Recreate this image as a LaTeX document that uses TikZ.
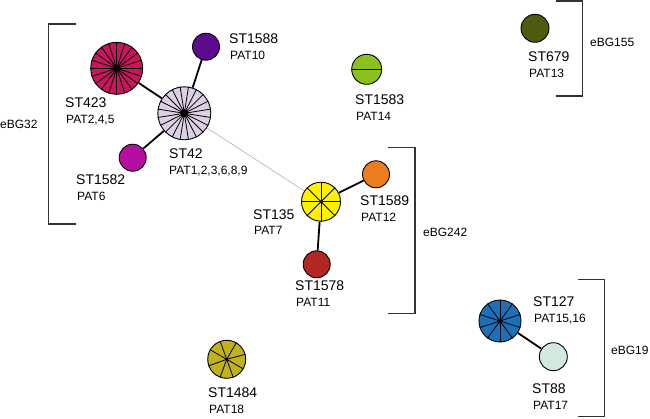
\documentclass[tikz,border=0pt]{standalone}
\usepackage{fontspec}
\setmainfont{Liberation Sans}

\definecolor{c423}{HTML}{C8165C}
\definecolor{c42}{HTML}{DDD0E4}
\definecolor{c1588}{HTML}{5C0A8E}
\definecolor{c1582}{HTML}{B40FA0}
\definecolor{c135}{HTML}{FFF200}
\definecolor{c1589}{HTML}{EC7D1E}
\definecolor{c1578}{HTML}{B22626}
\definecolor{c1583}{HTML}{8BC11E}
\definecolor{c679}{HTML}{4E5A10}
\definecolor{c127}{HTML}{1B70B8}
\definecolor{c88}{HTML}{D2E9DD}
\definecolor{c1484}{HTML}{BFB21C}

\tikzstyle{strain}=[shape=circle,draw=black,line width=0.9pt,inner sep=0pt]
\tikzstyle{link}=[line width=1.8pt]
\tikzstyle{weak}=[line width=0.5pt,draw=gray!70]
\tikzstyle{spoke}=[line width=0.8pt]
\tikzstyle{st}=[anchor=base west,inner sep=0pt,font=\fontsize{14}{16}\selectfont]
\tikzstyle{pat}=[anchor=base west,inner sep=0pt,font=\fontsize{12}{14}\selectfont]
\tikzstyle{group}=[line width=1.1pt,draw=black!80]

\begin{document}
\begin{tikzpicture}[x=1pt,y=-1pt]
        \useasboundingbox (0,0) rectangle (650,419);

        % strains
        \node[strain,fill=c42,minimum size=53pt] (s42) at (184.3,113.3) {};
        \node[strain,fill=c423,minimum size=52pt] (s423) at (116.7,68.3) {}
            edge [link] (s42);
        \node[strain,fill=c1588,minimum size=27pt] (s1588) at (206,46.7) {}
            edge [link] (s42);
        \node[strain,fill=c1582,minimum size=27pt] (s1582) at (132.7,157.7) {}
            edge [link] (s42);
        \node[strain,fill=c135,minimum size=39pt] (s135) at (321,201.7) {}
            edge [weak] (s42);
        \node[strain,fill=c1589,minimum size=27pt] (s1589) at (376,174.3) {}
            edge [link] (s135);
        \node[strain,fill=c1578,minimum size=27pt] (s1578) at (316.7,264.3) {}
            edge [link] (s135);
        \node[strain,fill=c1583,minimum size=30pt] (s1583) at (366.7,69.3) {};
        \node[strain,fill=c679,minimum size=28pt] (s679) at (535,28.3) {};
        \node[strain,fill=c127,minimum size=42pt] (s127) at (500,321) {};
        \node[strain,fill=c88,minimum size=28pt] (s88) at (553.3,356.7) {}
            edge [link] (s127);
        \node[strain,fill=c1484,minimum size=38pt] (s1484) at (226.7,359.3) {};

        % spokes
        \foreach \a in {0,18,...,342}
            \draw[spoke] (s423.center) -- (s423.\a);
        \foreach \a in {9,27,...,351}
            \draw[spoke] (s42.center) -- (s42.\a);
        \foreach \a in {0,45,...,315}
            \draw[spoke] (s135.center) -- (s135.\a);
        \foreach \a in {18,54,...,342}
            \draw[spoke] (s127.center) -- (s127.\a);
        \foreach \a in {15,60,110,150,200,250,290,330}
            \draw[spoke] (s1484.center) -- (s1484.\a);
        \draw[spoke] (s1583.west) -- (s1583.east);
        \fill (s423.center) circle (3.5pt);
        \fill (s42.center) circle (4pt);
        \fill (s135.center) circle (1.8pt);
        \fill (s127.center) circle (2pt);
        \fill (s1484.center) circle (1.5pt);

        % labels
        \node[st] (t1588) at (229,44) {ST1588};
        \node[pat] (p1588) at (230,60) {PAT10};
        \node[st] (t423) at (65,108) {ST423};
        \node[pat] (p423) at (66,124) {PAT2,4,5};
        \node[st] (t42) at (169,159) {ST42};
        \node[pat] (p42) at (169,175) {PAT1,2,3,6,8,9};
        \node[st] (t1582) at (76,185) {ST1582};
        \node[pat] (p1582) at (77,201) {PAT6};
        \node[st] (t135) at (253,220) {ST135};
        \node[pat] (p135) at (254,235) {PAT7};
        \node[st] (t1589) at (360,206) {ST1589};
        \node[pat] (p1589) at (361,222) {PAT12};
        \node[st] (t1578) at (295,291) {ST1578};
        \node[pat] (p1578) at (296,307) {PAT11};
        \node[st] (t1583) at (355,105) {ST1583};
        \node[pat] (p1583) at (356,121) {PAT14};
        \node[st] (t679) at (528,62) {ST679};
        \node[pat] (p679) at (529,78) {PAT13};
        \node[st] (t127) at (533,307) {ST127};
        \node[pat] (p127) at (534,323) {PAT15,16};
        \node[st] (t88) at (532,393) {ST88};
        \node[pat] (p88) at (533,409) {PAT17};
        \node[st] (t1484) at (208,397) {ST1484};
        \node[pat] (p1484) at (209,413) {PAT18};

        % groups
        \coordinate (g32a) at (76,24);
        \coordinate (g32b) at (76,224);
        \draw[group] (g32a) -- (48.5,24) -- (48.5,224) -- (g32b);
        \node[pat] (e32) at (0,129) {eBG32};
        \coordinate (g242a) at (388,147.5);
        \coordinate (g242b) at (388,313.5);
        \draw[group] (g242a) -- (415,147.5) -- (415,313.5) -- (g242b);
        \node[pat] (e242) at (423,237) {eBG242};
        \coordinate (g155a) at (556,1);
        \coordinate (g155b) at (556,96);
        \draw[group] (g155a) -- (582.5,1) -- (582.5,96) -- (g155b);
        \node[pat] (e155) at (590,47) {eBG155};
        \coordinate (g19a) at (578,279.5);
        \coordinate (g19b) at (578,416.5);
        \draw[group] (g19a) -- (604.5,279.5) -- (604.5,416.5) -- (g19b);
        \node[pat] (e19) at (611,354) {eBG19};
    \end{tikzpicture}
\end{document}
